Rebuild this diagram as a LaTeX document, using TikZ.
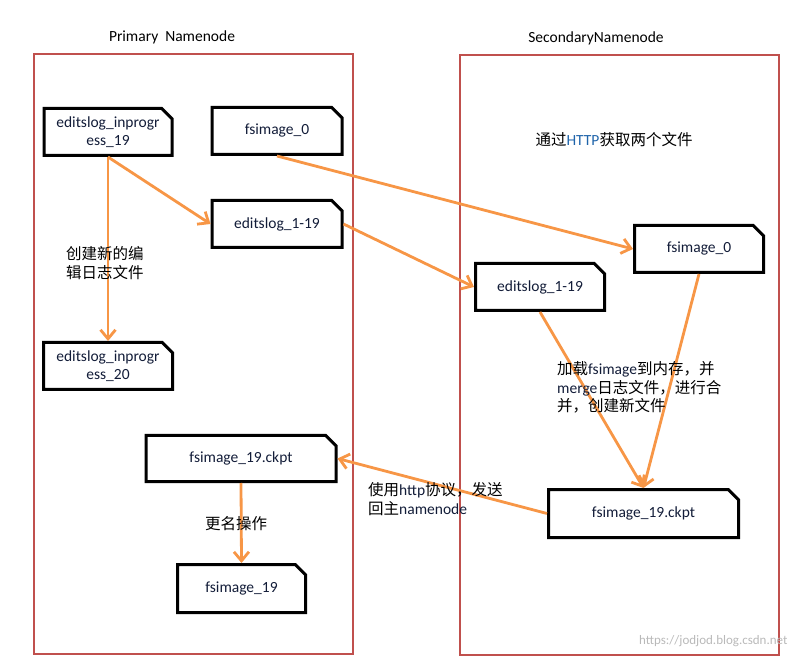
\documentclass[tikz,border=0pt]{standalone}
\usepackage{fontspec}
\setmainfont{Carlito}
\newfontfamily\cjk{Noto Sans CJK SC}
\usetikzlibrary{shapes.misc,arrows.meta}
\definecolor{boxred}{RGB}{192,80,77}
\definecolor{arrorange}{RGB}{247,150,70}
\definecolor{txtnavy}{RGB}{18,28,56}
\definecolor{httpblue}{RGB}{31,100,170}
\tikzstyle{docbox}=[shape = chamfered rectangle, chamfered rectangle corners = north east, chamfered rectangle xsep = 7pt, draw = black, line width = 3pt, minimum height = 47pt, inner sep = 2pt, align = center, text = txtnavy, font = \fontsize{15.5}{18}\selectfont]
\tikzstyle{nodeside}=[draw = boxred, line width = 2.5pt]
\tikzstyle{flow}=[draw = arrorange, line width = 2.8pt, -{Straight Barb[length = 9pt, width = 15pt]}]

\begin{document}
\begin{tikzpicture}[x = 1pt, y = 1pt]
\tikzstyle{titletext}=[text = black, font = \fontsize{15.5}{18}\selectfont]
\tikzstyle{labeltext}=[text = black, align = left, inner sep = 0pt, font = \fontsize{15.5}{18.5}\selectfont]
\useasboundingbox (0,0) rectangle (799,661);
\draw[nodeside] (34,7) rectangle (353,607);
\draw[nodeside] (460,6) rectangle (779,606);
\node[titletext] (pn) at (172,624) {Primary\ \ Namenode};
\node[titletext] (sn) at (596,623) {SecondaryNamenode};
\node[docbox, minimum width = 128pt] (ip19) at (108,529) {editslog\_inprogr\\ess\_19};
\node[docbox, minimum width = 130pt] (fs0) at (277,530) {fsimage\_0};
\node[docbox, minimum width = 130pt] (el19) at (277,437) {editslog\_1-19};
\node[docbox, minimum width = 129pt] (ip20) at (108,295) {editslog\_inprogr\\ess\_20};
\node[docbox, minimum width = 190pt, minimum height = 46pt] (ck) at (241,202.5) {fsimage\_19.ckpt};
\node[docbox, minimum width = 128pt, minimum height = 48pt] (fs19) at (241.5,72.5) {fsimage\_19};
\node[docbox, minimum width = 129pt] (sfs0) at (699,412) {fsimage\_0};
\node[docbox, minimum width = 129pt] (sel19) at (540,374) {editslog\_1-19};
\node[docbox, minimum width = 190pt, minimum height = 48pt] (sck) at (643.5,147.5) {fsimage\_19.ckpt};
\draw[flow] (ip19.south) -- (ip20.north);
\draw[flow] (ip19.south) -- (el19.west);
\draw[flow] (fs0.south) -- (sfs0.west);
\draw[flow] (el19.east) -- (sel19.west);
\draw[flow] (sel19.south) -- (sck.north);
\draw[flow] (sfs0.south) -- (sck.north);
\draw[flow] (sck.west) -- (ck.east);
\draw[flow] (ck.south) -- (fs19.north);
\node[labeltext, anchor = west] (l1) at (66,398) {{\cjk 创建新的编}\\{\cjk 辑日志文件}};
\node[labeltext] (l2) at (614,521) {{\cjk 通过}\textcolor{httpblue}{HTTP}{\cjk 获取两个文件}};
\node[labeltext, anchor = west] (l3) at (557,273.5) {{\cjk 加载}\textcolor{txtnavy}{fsimage}{\cjk 到内存，并}\\\textcolor{txtnavy}{merge}{\cjk 日志文件，进行合}\\{\cjk 并，创建新文件}};
\node[labeltext, anchor = west] (l4) at (368,162) {{\cjk 使用}\textcolor{txtnavy}{http}{\cjk 协议，发送}\\{\cjk 回主}\textcolor{txtnavy}{namenode}};
\node[labeltext] (l5) at (236,137) {{\cjk 更名操作}};
\node[text = gray!55, anchor = east, font = \fontsize{13}{15}\selectfont] (wm) at (791,20) {https://jodjod.blog.csdn.net};
\end{tikzpicture}
\end{document}
